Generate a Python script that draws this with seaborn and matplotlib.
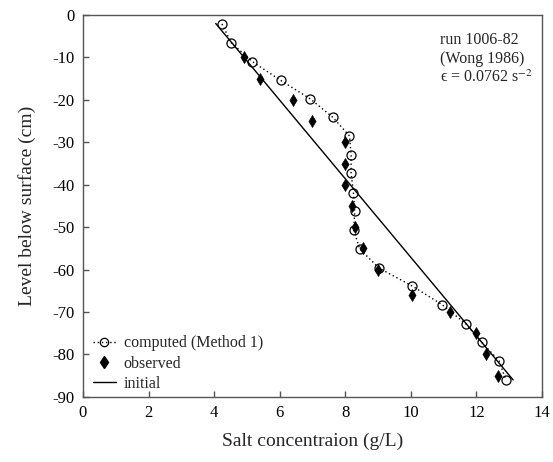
import matplotlib
matplotlib.use("Agg")
import matplotlib.pyplot as plt
import seaborn as sns
import pandas as pd
from matplotlib.lines import Line2D

# --- data ---
computed_x = [4.24, 4.52, 5.17, 6.03, 6.94, 7.62, 8.13, 8.18, 8.18, 8.25,
              8.29, 8.26, 8.44, 9.02, 10.05, 10.96, 11.68, 12.16, 12.69, 12.90]
computed_y = [-2.1, -6.5, -11.0, -15.4, -19.8, -24.1, -28.5, -32.9, -37.3, -41.9,
              -46.3, -50.7, -55.1, -59.6, -63.9, -68.3, -72.8, -77.1, -81.5, -86.0]

observed_x = [4.90, 5.40, 6.40, 7.00, 8.00, 8.00, 8.00, 8.20, 8.30, 8.55,
              9.00, 10.05, 11.20, 12.00, 12.30, 12.65]
observed_y = [-10, -15, -20, -25, -30, -35, -40, -45, -50, -55,
              -60, -66, -70, -75, -80, -85]

initial_x = [4.05, 13.12]
initial_y = [-2.0, -86.0]

x_ticks = [0, 2, 4, 6, 8, 10, 12, 14]
y_ticks = [0, -10, -20, -30, -40, -50, -60, -70, -80, -90]

sns.set_style("ticks")
plt.rcParams["font.family"] = ["Liberation Serif", "DejaVu Serif"]
plt.rcParams["mathtext.fontset"] = "stix"
plt.rcParams["axes.unicode_minus"] = False

fig = plt.figure(figsize=(5.53, 4.62), dpi=100)
ax = fig.add_axes([0.150, 0.141, 0.830, 0.8265])

df_c = pd.DataFrame({"x": computed_x, "y": computed_y})
df_o = pd.DataFrame({"x": observed_x, "y": observed_y})
df_i = pd.DataFrame({"x": initial_x, "y": initial_y})

sns.lineplot(data=df_i, x="x", y="y", sort=False, estimator=None, ax=ax,
             color="black", lw=1.0)
sns.lineplot(data=df_c, x="x", y="y", sort=False, estimator=None, ax=ax,
             color="black", lw=1.0, linestyle=(0, (1, 2)), marker="o",
             markersize=6.5, markerfacecolor="none", markeredgecolor="black",
             markeredgewidth=0.9)
sns.scatterplot(data=df_o, x="x", y="y", ax=ax, marker="d", s=38,
                color="black", edgecolor="black", linewidth=0.4, zorder=3)

ax.set_xlim(0, 14)
ax.set_ylim(-90, 0)
ax.set_xticks(x_ticks)
ax.set_yticks(y_ticks)
ax.set_xlabel("Salt concentraion (g/L)", fontsize=14, labelpad=8)
ax.set_ylabel("Level below surface (cm)", fontsize=14, labelpad=12)
ax.tick_params(direction="in", length=4, width=1, colors="#555555",
               labelcolor="black", labelsize=12, pad=6)

for s in ax.spines.values():
    s.set_color("#555555")
    s.set_linewidth(1.0)

ax.text(0.778, 0.955, "run 1006-82\n(Wong 1986)\nϵ = 0.0762 s$^{-2}$",
        transform=ax.transAxes, ha="left", va="top", fontsize=11.5,
        linespacing=1.2)

handles = [
    Line2D([], [], color="black", lw=1.0, linestyle=(0, (1, 2)), marker="o",
           markersize=6, markerfacecolor="none", markeredgewidth=0.9),
    Line2D([], [], color="black", lw=0, marker="d", markersize=6),
    Line2D([], [], color="black", lw=1.0),
]
ax.legend(handles, ["computed (Method 1)", "observed", "initial"],
          loc="lower left", bbox_to_anchor=(0.012, 0.0), frameon=False,
          fontsize=11.5, handlelength=1.4, handletextpad=0.5,
          labelspacing=0.27, borderaxespad=0.0, borderpad=0.3)

fig.savefig("out.png", dpi=100)
